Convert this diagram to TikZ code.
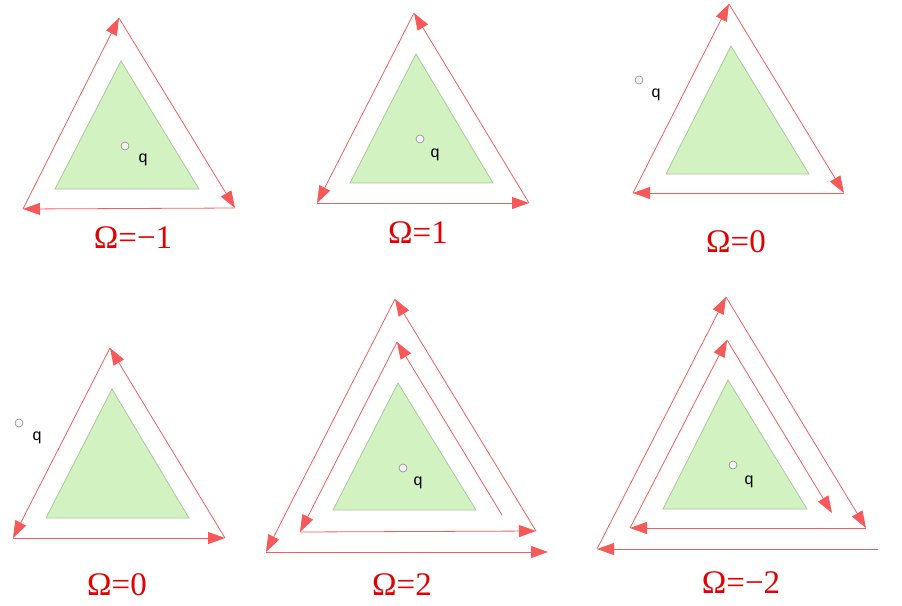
\documentclass[tikz,border=0pt]{standalone}
\usepackage{fontspec}
\setmainfont{Liberation Serif}
\newfontfamily\qfont{Liberation Sans}
\usetikzlibrary{arrows.meta}
\definecolor{linered}{RGB}{240,95,95}
\definecolor{tipred}{RGB}{247,88,88}
\definecolor{greenfill}{RGB}{210,242,194}
\definecolor{greenline}{RGB}{168,200,158}
\definecolor{labelred}{RGB}{228,0,0}
\tikzset{
  loopedge/.style={draw=linered, line width=0.8pt,
    -{Triangle[length=17pt,width=12pt,fill=tipred,color=tipred]}},
  body/.style={fill=greenfill, draw=greenline, line width=0.8pt},
  qpt/.style={circle, draw=gray!90, fill=gray!10, line width=0.6pt, inner sep=0pt, minimum size=8pt},
  qlabel/.style={font=\qfont\fontsize{16}{16}\selectfont, text=black, inner sep=0pt},
  omega/.style={font=\fontsize{33}{33}\selectfont, text=labelred, anchor=base, inner sep=0pt}
}
\begin{document}
\begin{tikzpicture}[x=1pt,y=-1pt]
\useasboundingbox (0,0) rectangle (902,605);

% ---------- Panel 1: Omega = -1 ----------
\fill[body] (121,61) -- (55,189) -- (199,189) -- cycle;
\coordinate (p1t) at (119,18);
\coordinate (p1l) at (23,209);
\coordinate (p1r) at (235,208);
\draw[loopedge] (p1l) -- (p1t);
\draw[loopedge] (p1t) -- (p1r);
\draw[loopedge] (p1r) -- (p1l);
\node[qpt] (q1) at (125,146) {};
\node[qlabel] (ql1) at (143,160) {q};
\node[omega] (o1) at (133,248) {Ω=−1};

% ---------- Panel 2: Omega = 1 ----------
\fill[body] (416,54) -- (350,183) -- (493,183) -- cycle;
\coordinate (p2t) at (414,13);
\coordinate (p2l) at (317,203);
\coordinate (p2r) at (529,203);
\draw[loopedge] (p2l) -- (p2r);
\draw[loopedge] (p2r) -- (p2t);
\draw[loopedge] (p2t) -- (p2l);
\node[qpt] (q2) at (420,139) {};
\node[qlabel] (ql2) at (435,155) {q};
\node[omega] (o2) at (418,243) {Ω=1};

% ---------- Panel 3: Omega = 0 ----------
\fill[body] (731,46) -- (666,174) -- (809,174) -- cycle;
\coordinate (p3t) at (729,4);
\coordinate (p3l) at (633,193);
\coordinate (p3r) at (844,193);
\draw[loopedge] (p3l) -- (p3t);
\draw[loopedge] (p3t) -- (p3r);
\draw[loopedge] (p3r) -- (p3l);
\node[qpt] (q3) at (639,80) {};
\node[qlabel] (ql3) at (656,95) {q};
\node[omega] (o3) at (736,252) {Ω=0};

% ---------- Panel 4: Omega = 0 ----------
\fill[body] (112,389) -- (46,518) -- (189,518) -- cycle;
\coordinate (p4t) at (110,348);
\coordinate (p4l) at (13,538);
\coordinate (p4r) at (225,538);
\draw[loopedge] (p4l) -- (p4r);
\draw[loopedge] (p4r) -- (p4t);
\draw[loopedge] (p4t) -- (p4l);
\node[qpt] (q4) at (19,423) {};
\node[qlabel] (ql4) at (37,438) {q};
\node[omega] (o4) at (117,595) {Ω=0};

% ---------- Panel 5: Omega = 2 ----------
\fill[body] (398,383) -- (333,510) -- (476,510) -- cycle;
\coordinate (p5s) at (502,515);
\coordinate (p5mt) at (397,342);
\coordinate (p5ml) at (300,532);
\coordinate (p5mr) at (536,531);
\coordinate (p5ot) at (395,299);
\coordinate (p5ol) at (266,552);
\coordinate (p5e) at (548,552);
\draw[loopedge] (p5s) -- (p5mt);
\draw[loopedge] (p5mt) -- (p5ml);
\draw[loopedge] (p5ml) -- (p5mr);
\draw[loopedge] (p5mr) -- (p5ot);
\draw[loopedge] (p5ot) -- (p5ol);
\draw[loopedge] (p5ol) -- (p5e);
\node[qpt] (q5) at (403,468) {};
\node[qlabel] (ql5) at (418,483) {q};
\node[omega] (o5) at (402,595) {Ω=2};

% ---------- Panel 6: Omega = -2 ----------
\fill[body] (728,380) -- (663,509) -- (807,509) -- cycle;
\coordinate (p6s) at (878,549);
\coordinate (p6ol) at (597,549);
\coordinate (p6ot) at (726,297);
\coordinate (p6mr) at (866,528);
\coordinate (p6ml) at (630,528);
\coordinate (p6mt) at (727,340);
\coordinate (p6e) at (832,513);
\draw[loopedge] (p6s) -- (p6ol);
\draw[loopedge] (p6ol) -- (p6ot);
\draw[loopedge] (p6ot) -- (p6mr);
\draw[loopedge] (p6mr) -- (p6ml);
\draw[loopedge] (p6ml) -- (p6mt);
\draw[loopedge] (p6mt) -- (p6e);
\node[qpt] (q6) at (733,465) {};
\node[qlabel] (ql6) at (749,482) {q};
\node[omega] (o6) at (741,593) {Ω=−2};
\end{tikzpicture}
\end{document}
